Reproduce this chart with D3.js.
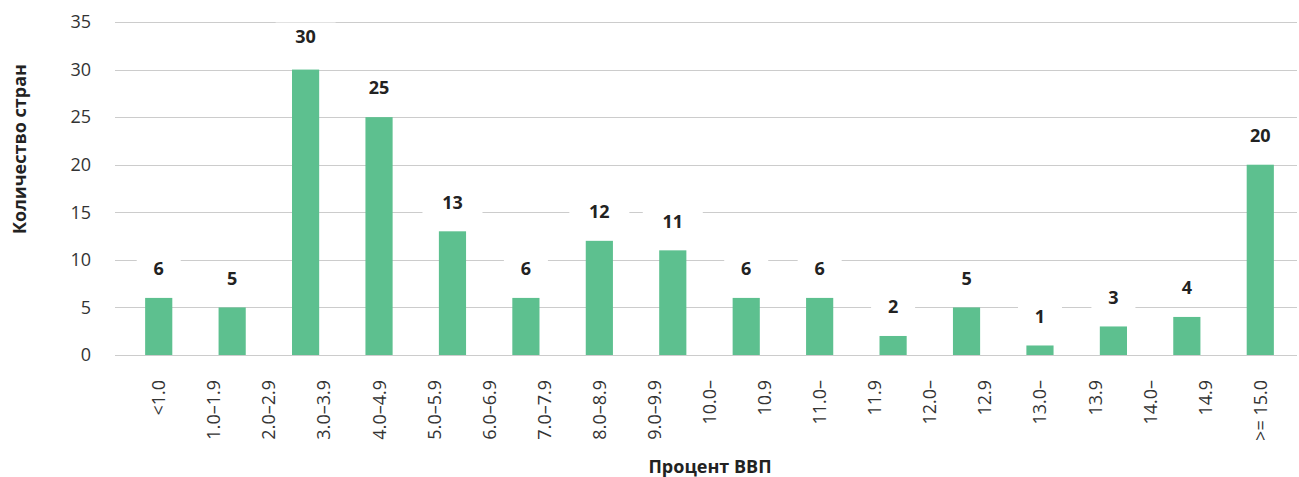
<!DOCTYPE html>
<meta charset="utf-8">
<style>
  body { margin: 0; background: #fff; }
  svg { font-family: "Open Sans", "Noto Sans", sans-serif; }
  .grid line { stroke: #cccccc; stroke-width: 1px; }
  .bars rect { fill: #5dc08f; }
  .ytick { font-size: 18px; fill: #333; }
  .xtick { font-size: 18px; fill: #333; }
  .vlabel { font-size: 18px; font-weight: 700; fill: #222; }
  .title { font-size: 18px; font-weight: 700; fill: #222; }
</style>
<svg width="1299" height="477"></svg>
<script src="https://cdn.jsdelivr.net/npm/d3@7/dist/d3.min.js"></script>
<script>
// bar categories and counts
const categories = ["<1.0", "1.0–1.9", "2.0–2.9", "3.0–3.9", "4.0–4.9", "5.0–5.9", "6.0–6.9", "7.0–7.9",
  "8.0–8.9", "9.0–9.9", "10.0–10.9", "11.0–11.9", "12.0–12.9", "13.0–13.9", "14.0–14.9", ">= 15.0"]
const counts = [6, 5, 30, 25, 13, 6, 12, 11, 6, 6, 2, 5, 1, 3, 4, 20]

// tick labels as they show on the axis (wrapped ones split in two)
const tickLabels = ["<1.0", "1.0–1.9", "2.0–2.9", "3.0–3.9", "4.0–4.9", "5.0–5.9", "6.0–6.9", "7.0–7.9",
  "8.0–8.9", "9.0–9.9", "10.0–", "10.9", "11.0–", "11.9", "12.0–", "12.9", "13.0–", "13.9",
  "14.0–", "14.9", ">= 15.0"]
const yTicks = [0, 5, 10, 15, 20, 25, 30, 35]

const svg = d3.select("svg")
const plotLeft = 115, plotRight = 1297, plotTop = 22, plotBottom = 355

const x = d3.scaleBand().domain(categories).range([122, plotRight]).paddingInner(0.63).paddingOuter(0.315)
const y = d3.scaleLinear().domain([0, 35]).range([plotBottom, plotTop])

// ticks sit between first and last bar centre
const xt = d3.scalePoint().domain(tickLabels)
  .range([x(categories[0]) + x.bandwidth() / 2, x(categories[categories.length - 1]) + x.bandwidth() / 2])

// gridlines
svg.append("g").attr("class", "grid")
  .selectAll("line").data(yTicks).enter().append("line")
  .attr("x1", plotLeft).attr("x2", plotRight)
  .attr("y1", d => Math.round(y(d)) + 0.5).attr("y2", d => Math.round(y(d)) + 0.5)

// y tick labels
svg.append("g").selectAll("text").data(yTicks).enter().append("text")
  .attr("class", "ytick")
  .attr("x", 91).attr("y", d => y(d)).attr("dy", "0.35em")
  .attr("text-anchor", "end")
  .text(d => d)

// bars
svg.append("g").attr("class", "bars")
  .selectAll("rect").data(categories).enter().append("rect")
  .attr("x", d => x(d))
  .attr("width", x.bandwidth())
  .attr("y", (d, i) => y(counts[i]))
  .attr("height", (d, i) => y(0) - y(counts[i]))

// value labels with white box behind
const lab = svg.append("g").selectAll("g").data(categories).enter().append("g")
  .attr("transform", (d, i) => `translate(${x(d) + x.bandwidth() / 2},${y(counts[i]) - (counts[i] >= 30 ? 33 : 29)})`)
lab.append("rect")
  .attr("x", (d, i) => counts[i] >= 10 ? -30 : -22).attr("width", (d, i) => counts[i] >= 10 ? 60 : 44)
  .attr("y", -14).attr("height", 28)
  .attr("fill", "#fff")
lab.append("text").attr("class", "vlabel")
  .attr("text-anchor", "middle").attr("dy", "0.35em")
  .text((d, i) => counts[i])

// x tick labels, rotated
svg.append("g").selectAll("text").data(tickLabels).enter().append("text")
  .attr("class", "xtick")
  .attr("transform", d => `translate(${xt(d) + 6.5},380) rotate(-90)`)
  .attr("text-anchor", "end")
  .text(d => d)

// axis titles
svg.append("text").attr("class", "title")
  .attr("transform", "translate(26,149) rotate(-90)")
  .attr("text-anchor", "middle")
  .text("Количество стран")

svg.append("text").attr("class", "title")
  .attr("x", 710).attr("y", 473)
  .attr("text-anchor", "middle")
  .text("Процент ВВП")
</script>
